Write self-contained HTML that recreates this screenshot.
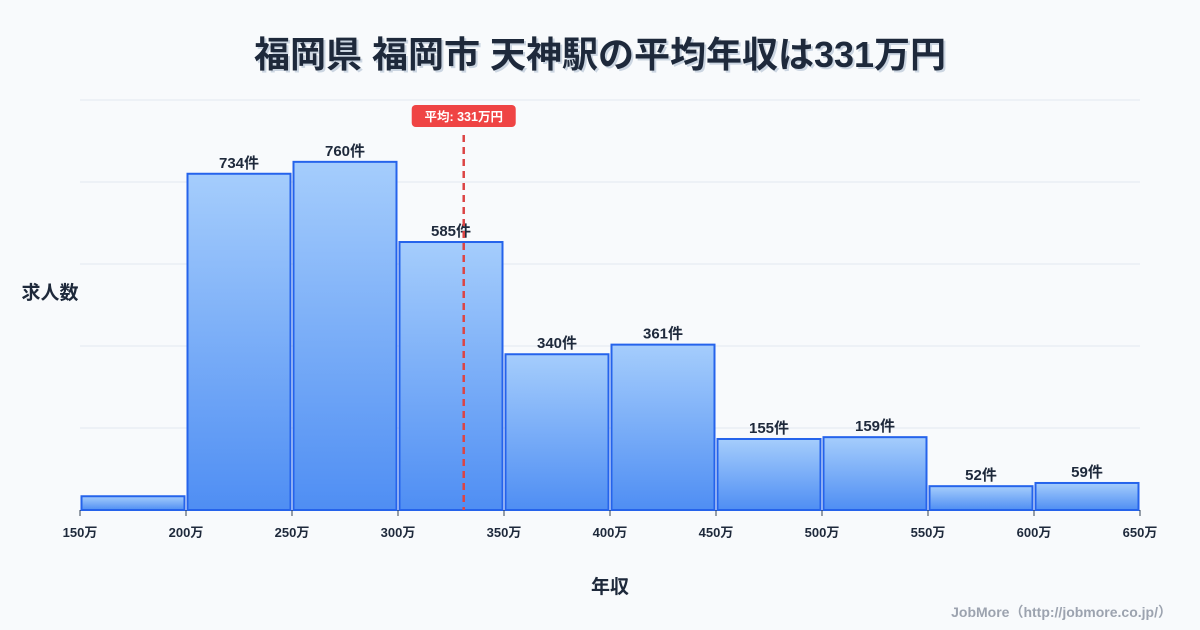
<!DOCTYPE html>
<html><head><meta charset="utf-8"><style>
body{margin:0;background:#f8fafc;}
svg{display:block;font-family:"Liberation Sans","Noto Sans CJK JP",sans-serif;}
</style></head><body>
<svg id="c" width="1200" height="630">
<defs><linearGradient id="g" x1="0" y1="0" x2="0" y2="1"><stop offset="0" stop-color="#a5cdfc"/><stop offset="1" stop-color="#4f8ef3"/></linearGradient></defs>
<text x="602" y="69" text-anchor="middle" font-size="36" font-weight="bold" fill="#cbd5e1">福岡県 福岡市 天神駅の平均年収は331万円</text>
<text x="600" y="67" text-anchor="middle" font-size="36" font-weight="bold" fill="#1e293b">福岡県 福岡市 天神駅の平均年収は331万円</text>
<text x="50" y="299" text-anchor="middle" font-size="19" font-weight="bold" fill="#1e293b">求人数</text>
<text x="610" y="593" text-anchor="middle" font-size="19" font-weight="bold" fill="#1e293b">年収</text>
<text x="1172" y="617" text-anchor="end" font-size="14" font-weight="bold" fill="#9ca3af">JobMore（http://jobmore.co.jp/）</text>
<g id="grid"></g><g id="bars"></g><g id="ticks"></g><g id="avg"></g>
</svg>
<script>
const binStarts=[150,200,250,300,350,400,450,500,550,600];
const counts=[30,734,760,585,340,361,155,159,52,59];
const labels=["","734件","760件","585件","340件","361件","155件","159件","52件","59件"];
const tickLabels=["150万","200万","250万","300万","350万","400万","450万","500万","550万","600万","650万"];
const tickValues=[150,200,250,300,350,400,450,500,550,600,650];
const average=331;
const NS="http://www.w3.org/2000/svg";
const X0=80,X1=1140,Y0=510,YTOP=100,XMIN=150,XMAX=650,YMAX=895;
const x=v=>X0+(v-XMIN)/(XMAX-XMIN)*(X1-X0);
const y=v=>Y0-v/YMAX*(Y0-YTOP);
function mk(t,a,p){const e=document.createElementNS(NS,t);for(const k in a)e.setAttribute(k,a[k]);p.appendChild(e);return e;}
const grid=document.getElementById('grid');
for(let i=0;i<=5;i++){const gy=Y0-i*(Y0-YTOP)/5;const l=mk('line',{x1:X0,x2:X1,y1:gy,y2:gy,stroke:'#e2e8f0','stroke-width':1},grid);

}
const bars=document.getElementById('bars');
binStarts.forEach((s,i)=>{const xa=x(s)+1.5,xb=x(s+50)-1.5,yt=y(counts[i]);
const r=mk('rect',{x:xa,y:yt,width:xb-xa,height:Y0-yt,fill:'url(#g)',stroke:'#2563eb','stroke-width':2},bars);


if(labels[i]){const t=mk('text',{x:(xa+xb)/2,y:yt-6,'text-anchor':'middle','font-size':15,'font-weight':'bold',fill:'#1e293b'},bars);t.textContent=labels[i];

}});
const ticks=document.getElementById('ticks');
tickValues.forEach((v,i)=>{const tx=x(v);const l=mk('line',{x1:tx,x2:tx,y1:Y0,y2:Y0+6,stroke:'#334155','stroke-width':1},ticks);


const t=mk('text',{x:tx,y:Y0+27,'text-anchor':'middle','font-size':13,'font-weight':'bold',fill:'#1e293b'},ticks);t.textContent=tickLabels[i];

});
const avg=document.getElementById('avg');const ax=x(average);
const al=mk('line',{x1:ax,x2:ax,y1:135,y2:Y0,stroke:'#dc4444','stroke-width':2.5,'stroke-dasharray':'7,5'},avg);


const ab=mk('rect',{x:ax-52,y:105,width:104,height:22,rx:4,fill:'#ef4444'},avg);


const at=mk('text',{x:ax,y:121,'text-anchor':'middle','font-size':12.5,'font-weight':'bold',fill:'#fff'},avg);at.textContent='平均: '+average+'万円';


</script>
</body></html>
